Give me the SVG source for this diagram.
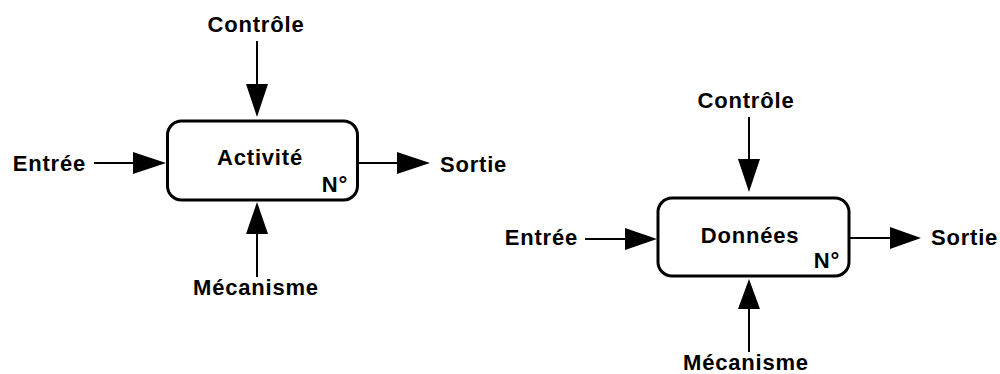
<svg xmlns="http://www.w3.org/2000/svg" width="1000" height="374" viewBox="0 0 1000 374">
<style>
text{font-family:"Liberation Sans",Arial,sans-serif;font-weight:bold;font-size:22px;fill:#000;letter-spacing:0.8px}
.box{fill:#fff;stroke:#000;stroke-width:3}
.ln{stroke:#000;stroke-width:2;fill:none}
.hd{fill:#000;stroke:none}
.m{text-anchor:middle}
.e{text-anchor:end}
</style>
<rect width="1000" height="374" fill="#fff"/>
<g id="connectors">
<line class="ln" x1="257" y1="41" x2="257" y2="86"/>
<polygon class="hd" points="246,84 268,84 257,117"/>
<line class="ln" x1="94" y1="163" x2="135" y2="163"/>
<polygon class="hd" points="133,152 133,174 166,163"/>
<line class="ln" x1="357" y1="163" x2="399" y2="163"/>
<polygon class="hd" points="397,152 397,174 430,163"/>
<line class="ln" x1="257" y1="232" x2="257" y2="277"/>
<polygon class="hd" points="246,234 268,234 257,202"/>
<line class="ln" x1="749" y1="117" x2="749" y2="161"/>
<polygon class="hd" points="738,159 760,159 749,192"/>
<line class="ln" x1="585" y1="239" x2="627" y2="239"/>
<polygon class="hd" points="625,228 625,250 657,239"/>
<line class="ln" x1="849" y1="238" x2="892" y2="238"/>
<polygon class="hd" points="890,227 890,249 921,238"/>
<line class="ln" x1="749" y1="307" x2="749" y2="352"/>
<polygon class="hd" points="738,309 760,309 749,279"/>
</g>
<g id="activite">
<rect class="box" x="167.5" y="121" width="190" height="79" rx="14"/>
<text class="m" x="260" y="165">Activité</text>
<text class="e" x="348" y="192">N°</text>
</g>
<g id="labels-left">
<text class="m" x="256" y="32">Contrôle</text>
<text class="e" x="86" y="171">Entrée</text>
<text x="440" y="172">Sortie</text>
<text class="m" x="256" y="295">Mécanisme</text>
</g>
<g id="donnees">
<rect class="box" x="658" y="198" width="191" height="78" rx="14"/>
<text class="m" x="750" y="243">Données</text>
<text class="e" x="840" y="268">N°</text>
</g>
<g id="labels-right">
<text class="m" x="746" y="108">Contrôle</text>
<text class="e" x="578" y="245">Entrée</text>
<text x="931" y="245">Sortie</text>
<text class="m" x="746" y="370">Mécanisme</text>
</g>
</svg>
